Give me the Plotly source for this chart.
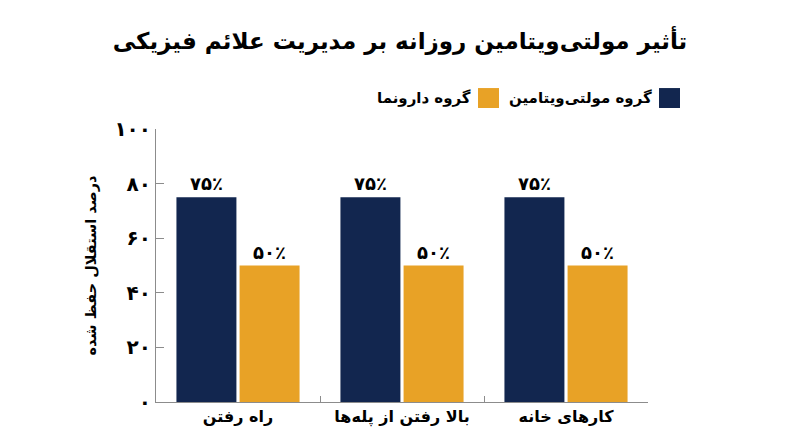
import plotly.graph_objects as go

# داده‌ها
categories = ["کارهای خانه", "بالا رفتن از پله‌ها", "راه رفتن"]
multivitamin = [75, 75, 75]
placebo = [50, 50, 50]
series_names = ["گروه مولتی‌ویتامین", "گروه دارونما"]
y_ticks = [0, 20, 40, 60, 80, 100]

NAVY = "#12264f"
ORANGE = "#e8a226"
FONT = "DejaVu Sans"


def fa_digits(n):
    return str(n).translate(str.maketrans("0123456789", "۰۱۲۳۴۵۶۷۸۹"))


fig = go.Figure()
for name, vals, color in [(series_names[0], multivitamin, NAVY),
                          (series_names[1], placebo, ORANGE)]:
    fig.add_trace(go.Bar(
        x=categories, y=vals, name=name,
        marker=dict(color=color, line=dict(width=0)),
        text=[fa_digits(v) + "٪" for v in vals],
        textposition="outside", cliponaxis=False,
        textfont=dict(family=FONT, size=18, color="black", weight="bold"),
        showlegend=False,
    ))

# راهنمای دستی (نماد در سمت راست متن)
legend_items = [(series_names[0], NAVY, 1.0224), (series_names[1], ORANGE, 0.6545)]
for name, color, x in legend_items:
    fig.add_shape(type="rect", xref="paper", yref="paper",
                  x0=x, x1=x + 0.0427, y0=1.077, y1=1.150,
                  fillcolor=color, line=dict(width=0))
    fig.add_annotation(text=name, xref="paper", yref="paper",
                       x=x - 0.01, y=1.1136, xanchor="right", yanchor="middle",
                       showarrow=False,
                       font=dict(family=FONT, size=15, color="black", weight="bold"))

fig.update_layout(
    width=800, height=447,
    barmode="group", bargap=0.23, bargroupgap=0.05,
    plot_bgcolor="white", paper_bgcolor="white",
    margin=dict(l=156, r=152, t=129, b=45),
    font=dict(family=FONT, color="black"),
    title=dict(text="تأثیر مولتی‌ویتامین روزانه بر مدیریت علائم فیزیکی",
               x=0.5, xanchor="center", y=0.908, yanchor="middle",
               font=dict(family=FONT, size=23, color="black", weight="bold")),
)
fig.update_xaxes(
    categoryorder="array", categoryarray=categories[::-1],
    showline=True, linecolor="#8c8c8c", linewidth=1,
    ticks="inside", ticklen=6, tickcolor="#8c8c8c", tickson="boundaries",
    tickfont=dict(family=FONT, size=16, color="black", weight="bold"),
    showgrid=False,
)
fig.update_yaxes(
    range=[0, 100], tickvals=y_ticks, ticktext=[fa_digits(v) for v in y_ticks],
    showline=True, linecolor="#8c8c8c", linewidth=1,
    ticks="inside", ticklen=8, tickcolor="#8c8c8c",
    tickfont=dict(family=FONT, size=20, color="black", weight="bold"),
    showgrid=False, zeroline=False,
    title=dict(text="درصد استقلال حفظ شده", standoff=14,
               font=dict(family=FONT, size=14.5, color="black", weight="bold")),
)

fig.write_html("out.html", config={"displayModeBar": False},
               post_script="document.body.style.margin='0';")
